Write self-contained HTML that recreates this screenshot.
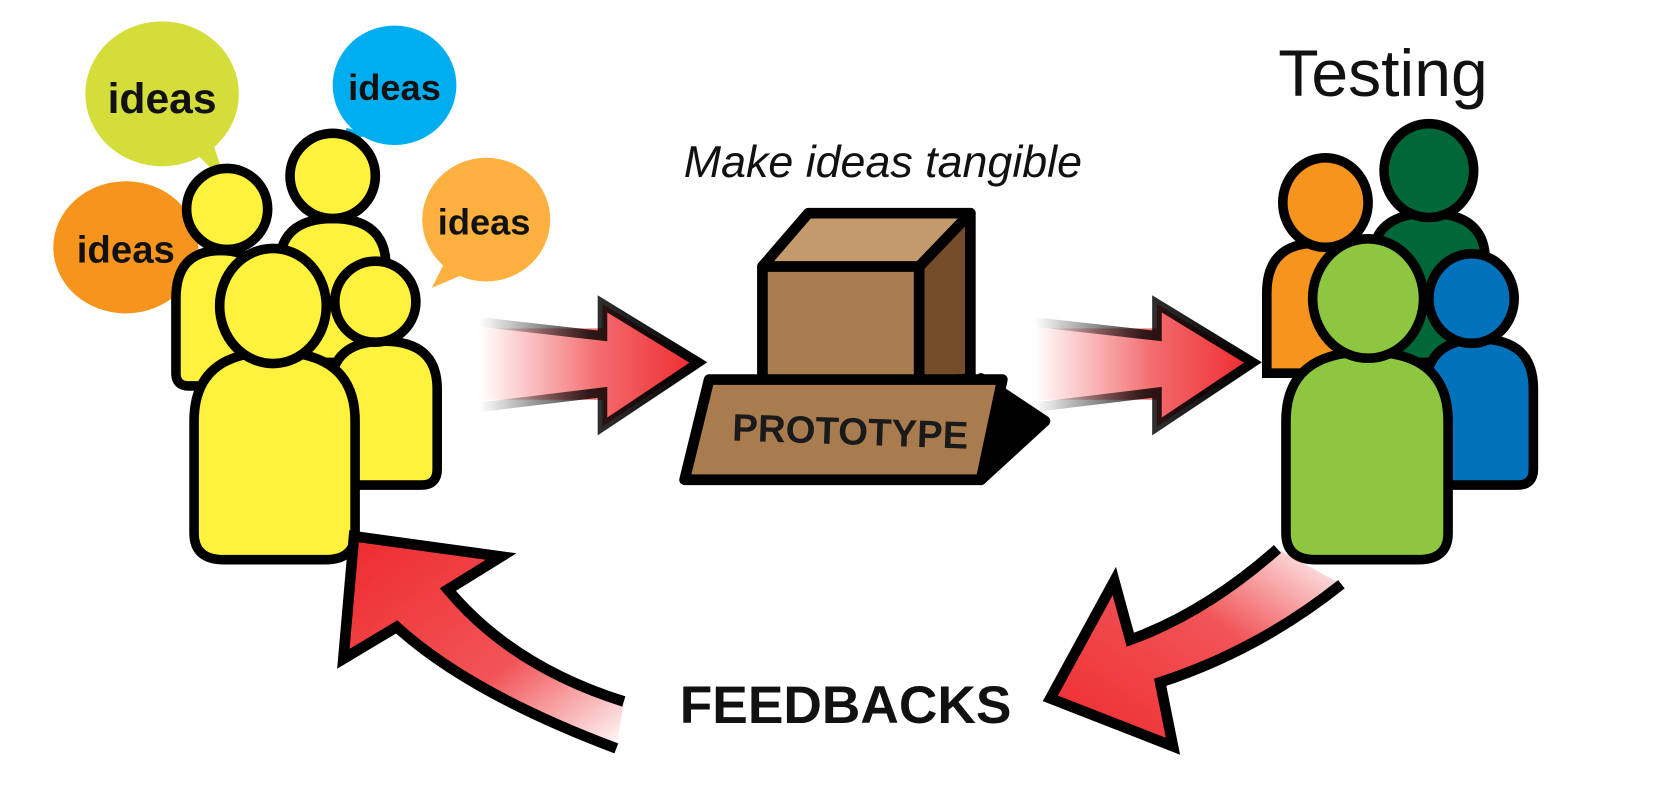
<!DOCTYPE html>
<html><head><style>
html,body{margin:0;padding:0;background:#fff;}
svg{display:block;}
text{font-family:"Liberation Sans",sans-serif;}
</style></head><body>
<svg width="1672" height="790" viewBox="0 0 1568 741" preserveAspectRatio="none" xmlns="http://www.w3.org/2000/svg">
<defs>
<linearGradient id="gr" x1="0" y1="0" x2="1" y2="0"><stop offset="0" stop-color="#ee2a2e" stop-opacity="0"/><stop offset="0.55" stop-color="#ee2a2e" stop-opacity="0.7"/><stop offset="1" stop-color="#ee2a2e"/></linearGradient>
<linearGradient id="gk" x1="0" y1="0" x2="1" y2="0"><stop offset="0" stop-color="#000" stop-opacity="0"/><stop offset="0.5" stop-color="#000" stop-opacity="0.8"/><stop offset="1" stop-color="#000"/></linearGradient>
<linearGradient id="gl" x1="1" y1="1" x2="0" y2="0"><stop offset="0" stop-color="#ee2a2e" stop-opacity="0"/><stop offset="0.4" stop-color="#ee2a2e" stop-opacity="0.8"/><stop offset="1" stop-color="#ee2a2e"/></linearGradient>
<linearGradient id="grr" x1="1" y1="0" x2="0" y2="1"><stop offset="0" stop-color="#ee2a2e" stop-opacity="0"/><stop offset="0.4" stop-color="#ee2a2e" stop-opacity="0.8"/><stop offset="1" stop-color="#ee2a2e"/></linearGradient>
</defs>
<g stroke="#000" stroke-width="9" stroke-linejoin="round">
<path d="M180,140 L212,172 L200,135 Z" fill="#d4dd3a" stroke="none"/>
<ellipse cx="152" cy="88" rx="72" ry="68" fill="#d4dd3a" stroke="none"/>
<path d="M320,140 L325,120 L345,125 Z" fill="#00aeef" stroke="none"/>
<ellipse cx="370" cy="80" rx="58" ry="56" fill="#00aeef" stroke="none"/>
<path d="M160,280 L190,300 L180,265 Z" fill="#f7941d" stroke="none"/>
<ellipse cx="118" cy="232" rx="68" ry="62" fill="#f7941d" stroke="none"/>
<path d="M405,270 L420,240 L440,255 Z" fill="#fbb040" stroke="none"/>
<ellipse cx="456" cy="206" rx="60" ry="58" fill="#fbb040" stroke="none"/>
</g>
<g font-family="Liberation Sans" font-weight="bold" fill="#111" text-anchor="middle">
<text x="152" y="106" font-size="40">ideas</text>
<text x="370" y="94" font-size="34">ideas</text>
<text x="118" y="246" font-size="36">ideas</text>
<text x="454" y="220" font-size="34">ideas</text>
</g>
<g stroke="#000" stroke-width="9" fill="#fff23c">
<path d="M165,350 L165,280 Q165,235 207,235 Q250,235 250,280 L250,350 Q250,362 238,362 L177,362 Q165,362 165,350Z"/>
<circle cx="213" cy="196" r="38"/>
<path d="M262,340 L262,250 Q262,205 312,205 Q362,205 362,250 L362,340Z"/>
<circle cx="312" cy="165" r="40"/>
<path d="M310,440 L310,365 Q310,320 360,320 Q410,320 410,365 L410,440 Q410,455 395,455 L325,455 Q310,455 310,440Z"/>
<circle cx="352" cy="283" r="38"/>
<path d="M182,500 L182,395 Q182,330 257,330 Q333,330 333,395 L333,500 Q333,525 305,525 L210,525 Q182,525 182,500Z"/>
<ellipse cx="256" cy="287" rx="50" ry="54"/>
</g>
<g stroke="#000" stroke-width="9">
<path d="M1188,350 L1188,275 Q1188,228 1235,228 Q1282,228 1282,275 L1282,350Z" fill="#f7941d"/>
<ellipse cx="1243" cy="190" rx="40" ry="42" fill="#f7941d"/>
<path d="M1287,340 L1287,245 Q1287,200 1340,200 Q1393,200 1393,245 L1393,340Z" fill="#006838"/>
<ellipse cx="1340" cy="160" rx="42" ry="44" fill="#006838"/>
<path d="M1337,440 L1337,365 Q1337,318 1388,318 Q1438,318 1438,365 L1438,440 Q1438,455 1423,455 L1352,455 Q1337,455 1337,440Z" fill="#0072bc"/>
<ellipse cx="1380" cy="280" rx="40" ry="42" fill="#0072bc"/>
<path d="M1206,500 L1206,395 Q1206,330 1282,330 Q1358,330 1358,395 L1358,500 Q1358,525 1330,525 L1234,525 Q1206,525 1206,500Z" fill="#8dc63f"/>
<ellipse cx="1283" cy="280" rx="52" ry="56" fill="#8dc63f"/>
</g>
<g>
<path d="M450,308 L565,308 L565,285 L655,340 L565,400 L565,375 L450,375Z" fill="url(#gr)"/>
<path d="M450,302 L565,315 L565,285 L655,340 L565,400 L565,368 L450,382" fill="none" stroke="url(#gk)" stroke-width="9" stroke-linejoin="miter"/>
<path d="M970,308 L1085,308 L1085,285 L1175,340 L1085,400 L1085,375 L970,375Z" fill="url(#gr)"/>
<path d="M970,302 L1085,315 L1085,285 L1175,340 L1085,400 L1085,368 L970,382" fill="none" stroke="url(#gk)" stroke-width="9" stroke-linejoin="miter"/>
</g>
<g stroke="#000" stroke-width="10" stroke-linejoin="round">
<path d="M715,250 L758,200 L910,200 L862,250Z" fill="#c49a6c"/>
<path d="M862,250 L910,200 L910,355 L862,360Z" fill="#754c29"/>
<rect x="715" y="250" width="147" height="108" fill="#a97c50"/>
<path d="M920,355 L980,395 L920,450Z" fill="#000"/>
<path d="M665,356 L940,356 L920,450 L642,450Z" fill="#a97c50"/>
</g>
<text x="797" y="417" font-size="36" font-weight="bold" fill="#1a1a1a" text-anchor="middle" transform="rotate(2 797 417)">PROTOTYPE</text>
<text x="828" y="166" font-size="42" fill="#111" text-anchor="middle" font-style="italic">Make ideas tangible</text>
<text x="1297" y="90" font-size="62" fill="#111" text-anchor="middle">Testing</text>
<text x="793" y="678" font-size="50" font-weight="bold" fill="#111" text-anchor="middle">FEEDBACKS</text>
<path d="M578,702 Q440,650 372,588 L322,618 L332,503 L470,522 L420,553 Q480,625 585,658Z" fill="url(#gl)"/>
<path d="M585,658 Q480,625 420,553 L470,522 L332,503 L322,618 L372,588 Q440,650 578,702" fill="none" stroke="#000" stroke-width="10" stroke-linejoin="miter"/>
<path d="M1198,515 Q1130,575 1060,600 L1045,545 L985,655 L1100,700 L1088,640 Q1180,610 1258,548Z" fill="url(#grr)"/>
<path d="M1198,515 Q1130,575 1060,600 L1045,545 L985,655 L1100,700 L1088,640 Q1180,610 1258,548" fill="none" stroke="#000" stroke-width="10" stroke-linejoin="miter"/>
</svg>
</body></html>
